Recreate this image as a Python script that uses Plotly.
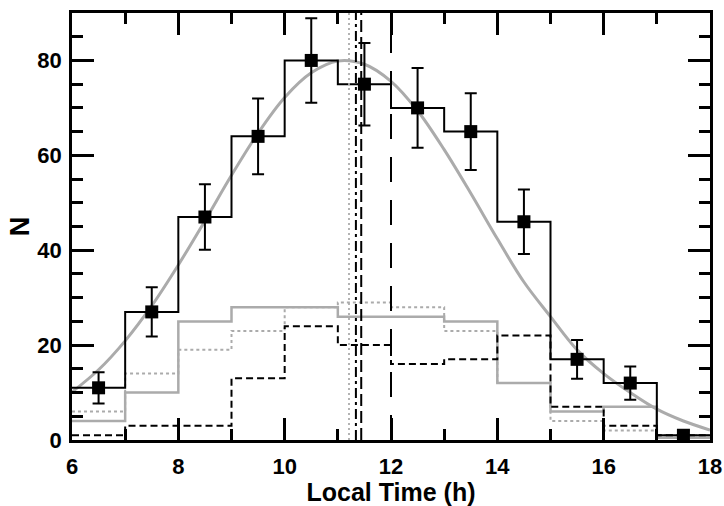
import plotly.graph_objects as go

# ---- data ----
bin_edges = [6, 7, 8, 9, 10, 11, 12, 13, 14, 15, 16, 17, 18]
bin_centers = [6.5, 7.5, 8.5, 9.5, 10.5, 11.5, 12.5, 13.5, 14.5, 15.5, 16.5, 17.5]
total_counts = [11, 27, 47, 64, 80, 75, 70, 65, 46, 17, 12, 1]
total_errors = [3.3, 5.2, 6.9, 8.0, 8.9, 8.7, 8.4, 8.1, 6.8, 4.1, 3.5, 1.0]
gray_solid_counts = [4, 10, 25, 28, 28, 26, 26, 25, 12, 6, 7, 0.5]
gray_dotted_counts = [6, 14, 19, 23, 28, 29, 28, 23, 12, 4, 2, 1]
black_dashed_counts = [1, 3, 3, 13, 24, 20, 16, 17, 22, 7, 3, 1]

fit_x = [6, 6.5, 7, 7.5, 8, 8.5, 9, 9.5, 10, 10.5, 11, 11.5, 12,
         12.5, 13, 13.5, 14, 14.5, 15, 15.5, 16, 16.5, 17, 17.5, 18]
fit_y = [10.1, 14.8, 20.9, 28.3, 36.9, 46.2, 55.8, 64.7, 72.2, 77.4, 79.9, 79.2, 75.6,
         69.4, 61.2, 52.0, 42.4, 33.3, 26.0, 19.0, 14.0, 10.0, 6.5, 4.0, 2.1]

vline_gray_dotted = 11.21
vline_black_dashdot = 11.34
vline_black_dashed = 11.44
vline_black_longdash = 12.0

x_ticks = [6, 8, 10, 12, 14, 16, 18]
y_ticks = [0, 20, 40, 60, 80]

GRAY = "#ababab"
BLACK = "#000000"


def steps(values):
    return list(values) + [values[-1]]


fig = go.Figure()

# gray fit curve
fig.add_trace(go.Scatter(x=fit_x, y=fit_y, mode="lines", line=dict(color=GRAY, width=3, shape="spline"),
                         showlegend=False, hoverinfo="skip"))

# step histograms
fig.add_trace(go.Scatter(x=bin_edges, y=steps(gray_dotted_counts), mode="lines",
                         line=dict(color=GRAY, width=2, shape="hv", dash="3px,3px"), showlegend=False))
fig.add_trace(go.Scatter(x=bin_edges, y=steps(gray_solid_counts), mode="lines",
                         line=dict(color=GRAY, width=2.5, shape="hv"), showlegend=False))
fig.add_trace(go.Scatter(x=bin_edges, y=steps(black_dashed_counts), mode="lines",
                         line=dict(color=BLACK, width=2, shape="hv", dash="7px,4px"), showlegend=False))
fig.add_trace(go.Scatter(x=bin_edges, y=steps(total_counts), mode="lines",
                         line=dict(color=BLACK, width=2, shape="hv"), showlegend=False))

# vertical lines
for xv, col, dash, w in [
    (vline_gray_dotted, GRAY, "2px,3px", 1.8),
    (vline_black_dashdot, BLACK, "10px,4px,3px,4px", 2),
    (vline_black_dashed, BLACK, "12px,5px", 2),
    (vline_black_longdash, BLACK, "25px,18px", 2),
]:
    fig.add_shape(type="line", x0=xv, x1=xv, y0=0, y1=1, xref="x", yref="paper",
                  line=dict(color=col, width=w, dash=dash))

# data points with error bars
fig.add_trace(go.Scatter(x=bin_centers, y=total_counts, mode="markers",
                         marker=dict(symbol="square", size=13, color=BLACK),
                         error_y=dict(type="data", array=total_errors, visible=True,
                                      color=BLACK, thickness=2, width=6),
                         showlegend=False))

FONT = "Liberation Sans, Arial, sans-serif"

fig.update_layout(
    width=724, height=506,
    margin=dict(l=72, r=14, t=13, b=66),
    paper_bgcolor="white", plot_bgcolor="white",
    font=dict(family=FONT, color="black"),
)

fig.update_xaxes(
    range=[6, 18], tickvals=x_ticks, ticktext=[str(v) for v in x_ticks],
    showgrid=False, zeroline=False, automargin=False,
    showline=True, linecolor="black", linewidth=2.5, mirror="ticks",
    ticks="inside", ticklen=22, tickwidth=2.5, tickcolor="black",
    minor=dict(dtick=1, tick0=6, ticks="inside", ticklen=11, tickwidth=2.5, tickcolor="black", showgrid=False),
    tickfont=dict(family=FONT, size=22, color="black", weight="bold"),
    ticklabelstandoff=5,
    title=dict(text="<b>Local Time (h)</b>", font=dict(family=FONT, size=25, color="black"), standoff=12),
)
fig.update_yaxes(
    range=[0, 90], tickvals=y_ticks, ticktext=[str(v) for v in y_ticks],
    showgrid=False, zeroline=False, automargin=False,
    showline=True, linecolor="black", linewidth=2.5, mirror="ticks",
    ticks="inside", ticklen=22, tickwidth=2.5, tickcolor="black",
    minor=dict(dtick=5, tick0=0, ticks="inside", ticklen=11, tickwidth=2.5, tickcolor="black", showgrid=False),
    tickfont=dict(family=FONT, size=22, color="black", weight="bold"),
    ticklabelstandoff=3,
    title=dict(text="<b>N</b>", font=dict(family=FONT, size=27, color="black"), standoff=0),
)

fig.write_html("out.html", config={"displayModeBar": False},
               post_script="document.body.style.margin='0px';document.body.style.overflow='hidden';")
